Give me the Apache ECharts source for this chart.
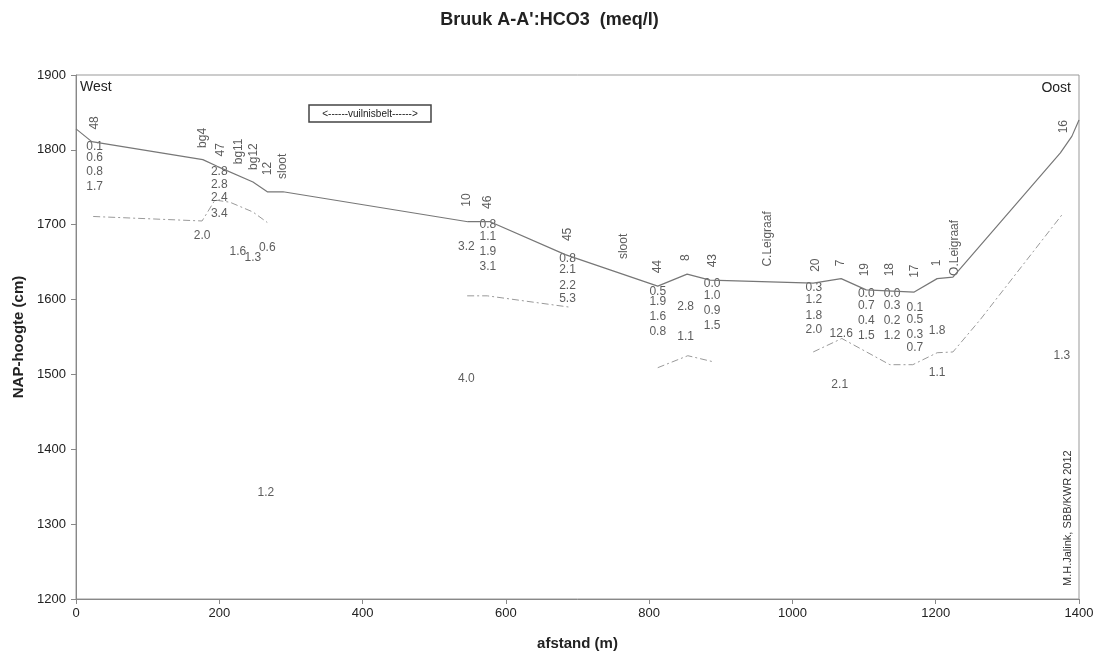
<!DOCTYPE html>
<html>
<head>
<meta charset="utf-8">
<script src="https://cdn.jsdelivr.net/npm/echarts@6/dist/echarts.min.js"></script>
<style>
html, body { margin: 0; padding: 0; background: #fff; }
#chart { width: 1099px; height: 659px; }
</style>
</head>
<body>
<div id="chart"></div>
<script>
// maaiveld (solid line)
const surface = [[0, 1828], [22, 1811], [177, 1787], [197, 1778], [247, 1757], [267, 1744], [289, 1744],
    [547, 1704], [578, 1704], [683, 1660], [812, 1618], [853, 1634], [885, 1626], [1029, 1622], [1068, 1628],
    [1103, 1613], [1170, 1610], [1202, 1628], [1224, 1630], [1374, 1796], [1390, 1818], [1400, 1840]];
// grondwaterstand (dash-dot pieces)
const gw1 = [[24, 1711], [176, 1705], [194, 1733], [215, 1730], [247, 1717], [267, 1703]];
const gw2 = [[546, 1605], [574, 1605], [688, 1590]];
const gw3 = [[812, 1509], [854, 1525], [889, 1517]];
const gw4 = [[1029, 1530], [1069, 1548], [1136, 1513], [1168, 1513], [1202, 1529], [1224, 1530], [1262, 1573], [1376, 1713]];

// put-nummers / namen (rotated)
const wellLabels = [
    [26, 1836, '48'], [177, 1816, 'bg4'], [202, 1800, '47'], [227, 1798, 'bg11'], [248, 1791, 'bg12'],
    [268, 1775, '12'], [289, 1778, 'sloot'], [545, 1733, '10'], [575, 1730, '46'], [687, 1687, '45'],
    [765, 1671, 'sloot'], [812, 1644, '44'], [851, 1656, '8'], [889, 1652, '43'], [965, 1681, 'C.Leigraaf'],
    [1033, 1646, '20'], [1068, 1649, '7'], [1101, 1640, '19'], [1136, 1640, '18'], [1170, 1638, '17'],
    [1202, 1649, '1'], [1227, 1669, 'O.Leigraaf'], [1378, 1831, '16']
];

// HCO3 waarden (meq/l)
const hco3Labels = [
    [26, 1804, '0.1'], [26, 1790, '0.6'], [26, 1771, '0.8'], [26, 1751, '1.7'],
    [200, 1771, '2.8'], [200, 1754, '2.8'], [200, 1736, '2.4'], [200, 1715, '3.4'],
    [176, 1685, '2.0'], [226, 1664, '1.6'], [247, 1656, '1.3'], [267, 1669, '0.6'], [265, 1342, '1.2'],
    [575, 1700, '0.8'], [575, 1684, '1.1'], [575, 1664, '1.9'], [575, 1644, '3.1'],
    [545, 1671, '3.2'], [545, 1494, '4.0'],
    [686, 1655, '0.8'], [686, 1640, '2.1'], [686, 1619, '2.2'], [686, 1601, '5.3'],
    [812, 1610, '0.5'], [812, 1597, '1.9'], [812, 1577, '1.6'], [812, 1557, '0.8'],
    [851, 1590, '2.8'], [851, 1550, '1.1'],
    [888, 1621, '0.0'], [888, 1605, '1.0'], [888, 1585, '0.9'], [888, 1565, '1.5'],
    [1030, 1616, '0.3'], [1030, 1600, '1.2'], [1030, 1578, '1.8'], [1030, 1560, '2.0'],
    [1068, 1554, '12.6'], [1066, 1486, '2.1'],
    [1103, 1608, '0.0'], [1103, 1592, '0.7'], [1103, 1572, '0.4'], [1103, 1552, '1.5'],
    [1139, 1608, '0.0'], [1139, 1592, '0.3'], [1139, 1572, '0.2'], [1139, 1552, '1.2'],
    [1171, 1589, '0.1'], [1171, 1573, '0.5'], [1171, 1553, '0.3'], [1171, 1536, '0.7'],
    [1202, 1558, '1.8'], [1202, 1502, '1.1'], [1376, 1525, '1.3']
];

const xTicks = { min: 0, max: 1400, interval: 200 };
const yTicks = { min: 1200, max: 1900, interval: 100 };

const font = 'Liberation Sans, Arial, sans-serif';
const txtColor = '#333';

const chart = echarts.init(document.getElementById('chart'));

function gwSeries(data) {
    return {
        type: 'line',
        data: data,
        symbol: 'none',
        silent: true,
        lineStyle: { color: '#999', width: 1, type: [7, 3, 2, 3] }
    };
}

function labelSeries(data, rotate) {
    return {
        type: 'scatter',
        data: data,
        symbolSize: 0,
        silent: true,
        encode: { x: 0, y: 1 },
        label: {
            show: true,
            position: 'inside',
            rotate: rotate,
            formatter: p => p.value[2],
            fontFamily: font,
            fontSize: 12,
            color: txtColor
        }
    };
}

chart.setOption({
    animation: false,
    title: {
        text: "Bruuk A-A':HCO3  (meq/l)",
        left: 'center',
        top: 6,
        textStyle: { fontFamily: font, fontSize: 18, fontWeight: 'bold', color: '#222' }
    },
    grid: {
        left: 76, right: 20, top: 75, bottom: 60,
        show: true, borderColor: '#999', borderWidth: 1
    },
    xAxis: {
        type: 'value',
        min: xTicks.min, max: xTicks.max, interval: xTicks.interval,
        name: 'afstand (m)',
        nameLocation: 'middle',
        nameGap: 37,
        nameTextStyle: { fontFamily: font, fontSize: 15, fontWeight: 'bold', color: '#222' },
        axisLine: { lineStyle: { color: '#888' } },
        axisTick: { length: 5, lineStyle: { color: '#888' } },
        axisLabel: { fontFamily: font, fontSize: 13, color: '#222', margin: 8, formatter: v => String(v) },
        splitLine: { show: false }
    },
    yAxis: {
        type: 'value',
        min: yTicks.min, max: yTicks.max, interval: yTicks.interval,
        name: 'NAP-hoogte (cm)',
        nameLocation: 'middle',
        nameGap: 48,
        nameTextStyle: { fontFamily: font, fontSize: 15, fontWeight: 'bold', color: '#222' },
        axisLine: { show: true, lineStyle: { color: '#888' } },
        axisTick: { show: true, length: 5, lineStyle: { color: '#888' } },
        axisLabel: { fontFamily: font, fontSize: 13, color: '#222', margin: 10, formatter: v => String(v) },
        splitLine: { show: false }
    },
    graphic: [
        { type: 'text', left: 80, top: 80, style: { text: 'West', font: '14px ' + font, fill: '#222' } },
        { type: 'text', right: 28, top: 81, style: { text: 'Oost', font: '14px ' + font, fill: '#222' } },
        {
            type: 'rect', shape: { x: 309, y: 105, width: 122, height: 17 },
            style: { fill: '#fff', stroke: '#444', lineWidth: 1.5 }
        },
        {
            type: 'text', x: 370, y: 114,
            style: { text: '<------vuilnisbelt------>', font: '10px ' + font, fill: '#222', align: 'center', verticalAlign: 'middle' }
        },
        {
            type: 'text', x: 1068, y: 586, rotation: Math.PI / 2,
            style: { text: 'M.H.Jalink, SBB/KWR 2012', font: '11px ' + font, fill: '#333', align: 'left', verticalAlign: 'middle' }
        }
    ],
    series: [
        {
            type: 'line',
            data: surface,
            symbol: 'none',
            silent: true,
            lineStyle: { color: '#777', width: 1.2 }
        },
        gwSeries(gw1),
        gwSeries(gw2),
        gwSeries(gw3),
        gwSeries(gw4),
        labelSeries(wellLabels, 90),
        labelSeries(hco3Labels, 0)
    ]
});
</script>
</body>
</html>
